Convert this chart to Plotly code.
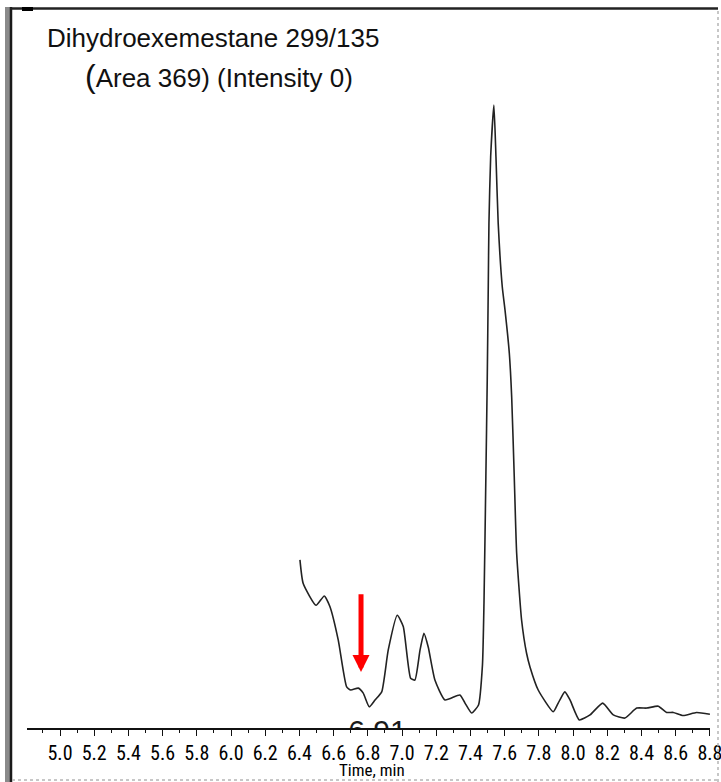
import plotly.graph_objects as go

# ---- data ----
time_min = [6.403, 6.422, 6.497, 6.545, 6.578, 6.627, 6.676, 6.700, 6.744, 6.773,
            6.808, 6.842, 6.881, 6.919, 6.972, 7.007, 7.050, 7.075, 7.105, 7.128,
            7.153, 7.192, 7.251, 7.338, 7.368, 7.407, 7.447, 7.470, 7.479, 7.490,
            7.498, 7.504, 7.508, 7.518, 7.537, 7.549, 7.562, 7.586, 7.602, 7.627,
            7.641, 7.656, 7.670, 7.699, 7.728, 7.748, 7.796, 7.884, 7.913, 7.952,
            7.982, 8.036, 8.099, 8.173, 8.235, 8.303, 8.372, 8.430, 8.498, 8.547,
            8.586, 8.644, 8.722, 8.800]
intensity = [27.0, 23.2, 19.7, 21.2, 19.5, 14.1, 6.6, 6.1, 6.4, 5.6,
             3.4, 4.5, 5.8, 12.5, 18.1, 16.3, 8.0, 7.7, 12.5, 15.2,
             13.0, 7.7, 4.5, 5.3, 4.0, 2.4, 3.7, 10.1, 20.1, 40.3,
             55.9, 70.8, 81.1, 91.7, 100.0, 91.7, 81.1, 70.8, 67.1, 60.2,
             53.1, 40.3, 28.1, 17.3, 12.0, 9.8, 6.1, 2.6, 4.0, 5.8,
             4.5, 1.3, 2.1, 4.0, 2.1, 1.6, 3.2, 3.2, 3.5, 2.5,
             2.5, 2.0, 2.5, 2.2]

major_ticks = [round(5.0 + 0.2 * i, 1) for i in range(20)]
major_labels = [f"{v:.1f}" for v in major_ticks]
minor_ticks = [round(4.9 + 0.2 * i, 1) for i in range(20)]

peak_label = "6.91"
peak_label_x = 6.856
arrow_x = 6.760
arrow_tip_y = 9.0
arrow_tail_y = 21.7

title_line1 = "Dihydroexemestane 299/135"
title_line2 = "<span style='font-size:32px'>(</span>Area 369) (Intensity 0)"
x_title = "Time, min"

# ---- layout geometry (pixels) ----
W, H = 721, 782
PL, PR, PT, PB = 27, 710, 74, 728


def pxx(x):
    return (x - PL) / (PR - PL)


def pxy(y):
    return (PB - y) / (PB - PT)


fig = go.Figure()
fig.add_trace(go.Scatter(
    x=time_min, y=intensity, mode="lines",
    line=dict(color="#222222", width=1.6, shape="spline", smoothing=0.5),
    hoverinfo="skip", showlegend=False,
))
# partially hidden peak label (clipped by plot area)
fig.add_trace(go.Scatter(
    x=[peak_label_x], y=[-0.85], mode="text", text=[peak_label],
    textposition="middle center", cliponaxis=True,
    textfont=dict(family="Liberation Sans, Arial, sans-serif", size=30, color="#1a1a1a"),
    hoverinfo="skip", showlegend=False,
))

narrow = "Roboto Condensed, DejaVu Sans Condensed, Liberation Sans, sans-serif"

fig.update_layout(
    width=W, height=H,
    margin=dict(l=PL, r=W - PR, t=PT, b=H - PB, pad=0, autoexpand=False),
    paper_bgcolor="white", plot_bgcolor="white",
    showlegend=False,
    xaxis=dict(
        range=[4.807, 8.8005], showgrid=False, zeroline=False, automargin=False,
        showline=True, linecolor="#111", linewidth=1.5,
        tickmode="array", tickvals=major_ticks, ticktext=major_labels,
        ticks="outside", ticklen=6, tickwidth=1.3, tickcolor="#111",
        tickfont=dict(family=narrow, size=20, color="#000"),
        ticklabeloverflow="allow",
        minor=dict(tickmode="array", tickvals=minor_ticks, ticks="outside",
                   ticklen=3, tickwidth=1.2, tickcolor="#111"),
        fixedrange=True,
    ),
    yaxis=dict(range=[0, 105], visible=False, fixedrange=True, automargin=False),
)

annotations = [
    dict(text=title_line1, xref="paper", yref="paper", x=pxx(213), y=pxy(38),
         xanchor="center", yanchor="middle", showarrow=False,
         font=dict(family="Liberation Sans, Arial, sans-serif", size=26, color="#111")),
    dict(text=title_line2, xref="paper", yref="paper", x=pxx(218.5), y=pxy(76),
         xanchor="center", yanchor="middle", showarrow=False,
         font=dict(family="Liberation Sans, Arial, sans-serif", size=26, color="#111")),
    dict(text=x_title, xref="paper", yref="paper", x=pxx(371.5), y=pxy(770),
         xanchor="center", yanchor="middle", showarrow=False,
         font=dict(family=narrow, size=17, color="#000")),
    dict(x=arrow_x, y=arrow_tip_y, ax=arrow_x, ay=arrow_tail_y,
         xref="x", yref="y", axref="x", ayref="y", text="",
         showarrow=True, arrowhead=2, arrowsize=0.68, arrowwidth=5,
         arrowcolor="#ff0000", standoff=0),
]
fig.update_layout(annotations=annotations)

shapes = [
    # left scanned border
    dict(type="rect", xref="paper", yref="paper", x0=pxx(5), x1=pxx(10), y0=pxy(782), y1=pxy(7),
         fillcolor="#8a8a8a", line=dict(width=0), layer="above"),
    dict(type="line", xref="paper", yref="paper", x0=pxx(11), x1=pxx(11), y0=pxy(782), y1=pxy(7),
         line=dict(color="#1a1a1a", width=2.5), layer="above"),
    # top border
    dict(type="line", xref="paper", yref="paper", x0=pxx(10), x1=pxx(718), y0=pxy(8.5), y1=pxy(8.5),
         line=dict(color="#222", width=2.5), layer="above"),
    dict(type="rect", xref="paper", yref="paper", x0=pxx(22), x1=pxx(33), y0=pxy(11), y1=pxy(7),
         fillcolor="#000", line=dict(width=0), layer="above"),
    # right and bottom dotted scan edges
    dict(type="line", xref="paper", yref="paper", x0=pxx(718), x1=pxx(718), y0=pxy(782), y1=pxy(9),
         line=dict(color="#b5b5b5", width=1.5, dash="dot"), layer="above"),
    dict(type="line", xref="paper", yref="paper", x0=pxx(12), x1=pxx(718), y0=pxy(780), y1=pxy(780),
         line=dict(color="#b5b5b5", width=1.5, dash="dot"), layer="above"),
]
fig.update_layout(shapes=shapes)

fig.write_html("out.html", config={"displayModeBar": False})
